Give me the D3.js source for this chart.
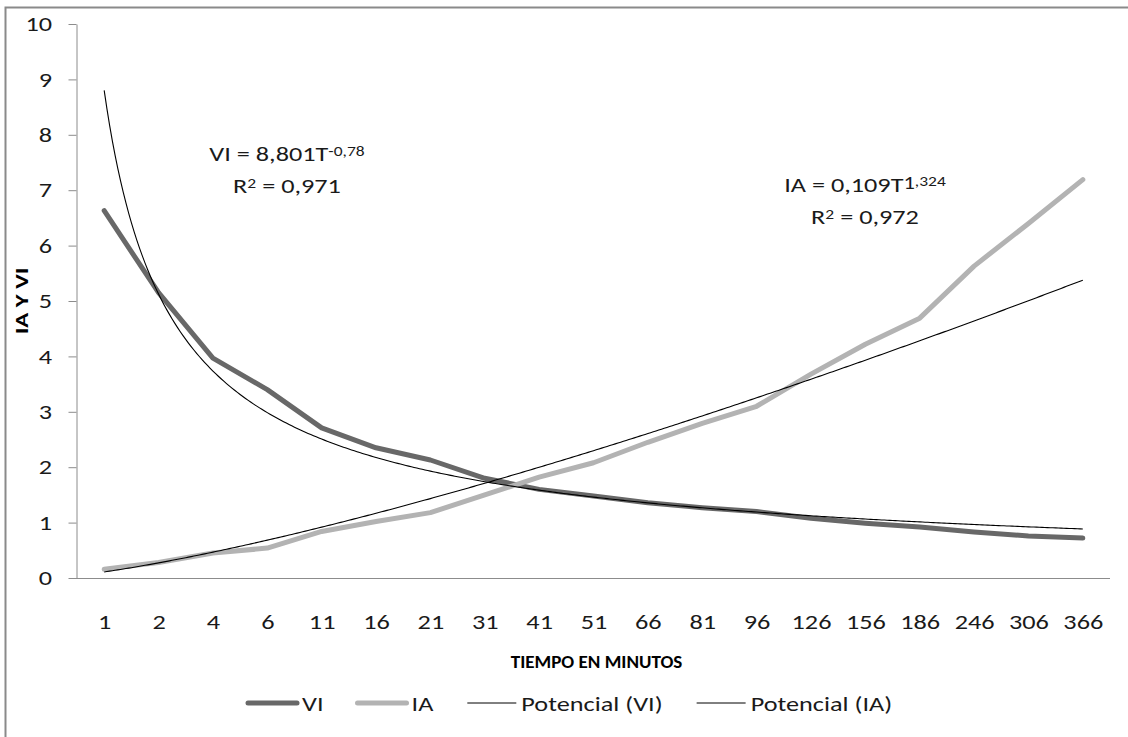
<!DOCTYPE html>
<html>
<head>
<meta charset="utf-8">
<script src="https://cdn.jsdelivr.net/npm/d3@7"></script>
<style>
  html, body { margin: 0; padding: 0; background: #fff; }
  svg { display: block; font-family: Carlito, Calibri, Lato, "Open Sans", sans-serif; }
</style>
</head>
<body>
<svg id="chart" width="1128" height="737"></svg>
<script>
// Time in minutes (category axis)
const tiempo = ["1","2","4","6","11","16","21","31","41","51","66","81","96","126","156","186","246","306","366"];
// Series values
const vi = [6.63, 5.15, 3.97, 3.40, 2.71, 2.35, 2.13, 1.80, 1.60, 1.48, 1.36, 1.27, 1.20, 1.08, 0.99, 0.92, 0.83, 0.76, 0.72];
const ia = [0.16, 0.28, 0.45, 0.54, 0.84, 1.02, 1.18, 1.50, 1.82, 2.08, 2.45, 2.79, 3.10, 3.68, 4.22, 4.69, 5.63, 6.40, 7.19];
// Power trend-line coefficients (y = a * T^b, T = category index)
const trendVI = { a: 8.801, b: -0.78 };
const trendIA = { a: 0.109, b: 1.324 };
const yTicks = [0,1,2,3,4,5,6,7,8,9,10];
const legendLabels = ["VI", "IA", "Potencial (VI)", "Potencial (IA)"];

const svg = d3.select("#chart");
const plot = { left: 77, right: 1110, top: 24, bottom: 578 };
const fs = 21;      // body text size
const sx = 1.25;    // horizontal text stretch
const ink = "#1a1a1a";
const colVI = "#686868", colIA = "#b3b3b3";

// chart frame
svg.append("rect")
  .attr("x", 5.5).attr("y", 7.5).attr("width", 1200).attr("height", 800)
  .attr("fill", "none").attr("stroke", "#8a8a8a").attr("stroke-width", 2);

const x = d3.scalePoint().domain(tiempo).range([plot.left, plot.right]).padding(0.5);
const xi = d3.scaleLinear().domain([1, tiempo.length]).range([x(tiempo[0]), x(tiempo[tiempo.length - 1])]);
const y = d3.scaleLinear().domain([0, 10]).range([plot.bottom, plot.top]);

// y axis
const yAxis = svg.append("g")
  .attr("transform", `translate(${plot.left - 0.5},0)`)
  .call(d3.axisLeft(y).tickValues(yTicks).tickSize(8).tickPadding(16).tickSizeOuter(0));
yAxis.attr("font-family", null);
yAxis.select(".domain").attr("stroke", "#8c8c8c");
yAxis.selectAll(".tick line").attr("stroke", "#8c8c8c");
yAxis.selectAll(".tick text")
  .attr("font-size", fs).attr("fill", ink)
  .attr("x", -(plot.left - 0.5 - 52) / sx)
  .attr("transform", `scale(${sx},1)`);

// x axis
const xAxis = svg.append("g")
  .attr("transform", `translate(0,${plot.bottom + 0.5})`)
  .call(d3.axisBottom(x).tickSize(0).tickPadding(36).tickSizeOuter(0));
xAxis.attr("font-family", null);
xAxis.select(".domain").attr("stroke", "#8c8c8c").attr("d", `M${plot.left - 8},0H${plot.right}`);
xAxis.selectAll(".tick text").attr("font-size", fs).attr("fill", ink)
  .attr("transform", `scale(${sx},1)`);

// axis titles
svg.append("text")
  .attr("transform", `translate(${(plot.left + plot.right) / 2 + 3},668) scale(1.06,1)`)
  .attr("text-anchor", "middle").attr("font-size", 18).attr("font-weight", "bold")
  .attr("fill", "#000").text("TIEMPO EN MINUTOS");
svg.append("text")
  .attr("transform", `translate(28,${(plot.top + plot.bottom) / 2}) rotate(-90) scale(1.3,1)`)
  .attr("text-anchor", "middle").attr("font-size", 19).attr("font-weight", "bold")
  .attr("fill", "#000").text("IA Y VI");

const line = d3.line().x((d, i) => x(tiempo[i])).y(d => y(d));

// data series
svg.append("path").datum(vi).attr("d", line)
  .attr("fill", "none").attr("stroke", colVI).attr("stroke-width", 5)
  .attr("stroke-linejoin", "round").attr("stroke-linecap", "round");
svg.append("path").datum(ia).attr("d", line)
  .attr("fill", "none").attr("stroke", colIA).attr("stroke-width", 5)
  .attr("stroke-linejoin", "round").attr("stroke-linecap", "round");

// power trend lines
function trendPoints(t) {
  const pts = [];
  for (let k = 0; k <= 360; k++) {
    const T = 1 + (tiempo.length - 1) * k / 360;
    pts.push([T, t.a * Math.pow(T, t.b)]);
  }
  return pts;
}
const trendLine = d3.line().x(d => xi(d[0])).y(d => y(d[1]));
[trendVI, trendIA].forEach(t => {
  svg.append("path").datum(trendPoints(t)).attr("d", trendLine)
    .attr("fill", "none").attr("stroke", "#000").attr("stroke-width", 1.1);
});

// stretched text at (px, py)
function label(px, py, anchor) {
  return svg.append("text")
    .attr("transform", `translate(${px},${py}) scale(${sx},1)`)
    .attr("text-anchor", anchor).attr("font-size", fs).attr("fill", ink);
}

// trend equation labels
function eqLabel(cx, y1, y2, base, supParts, r2) {
  const t1 = label(cx, y1, "middle");
  t1.append("tspan").text(base);
  supParts.forEach(p => {
    t1.append("tspan").attr("font-size", p.size).attr("dy", p.dy).text(p.text);
  });
  const t2 = label(cx, y2, "middle");
  t2.append("tspan").text("R");
  t2.append("tspan").attr("font-size", 14).attr("dy", -5).text("2");
  t2.append("tspan").attr("dy", 5).text(" = " + r2);
}
eqLabel(287, 161, 193, "VI = 8,801T", [{ text: "-0,78", size: 14, dy: -5 }], "0,971");
eqLabel(865, 192, 224, "IA = 0,109T", [{ text: "1", size: 18, dy: -3 }, { text: ",324", size: 14, dy: -3 }], "0,972");

// legend: line swatch + label, entries laid out left to right
const legendStyles = [
  { color: colVI, w: 5 }, { color: colIA, w: 5 },
  { color: "#000", w: 1 }, { color: "#000", w: 1 }
];
let lx = 248;
legendLabels.forEach((name, i) => {
  const st = legendStyles[i];
  const swatch = 49;
  svg.append("line").attr("x1", lx).attr("x2", lx + swatch).attr("y1", 703).attr("y2", 703)
    .attr("stroke", st.color).attr("stroke-width", st.w)
    .attr("stroke-linecap", st.w > 2 ? "round" : "butt");
  const t = label(lx + swatch + 5, 710.5, "start").text(name);
  const w = t.node().getComputedTextLength() * sx;
  lx += swatch + 5 + w + 34;
});
</script>
</body>
</html>
